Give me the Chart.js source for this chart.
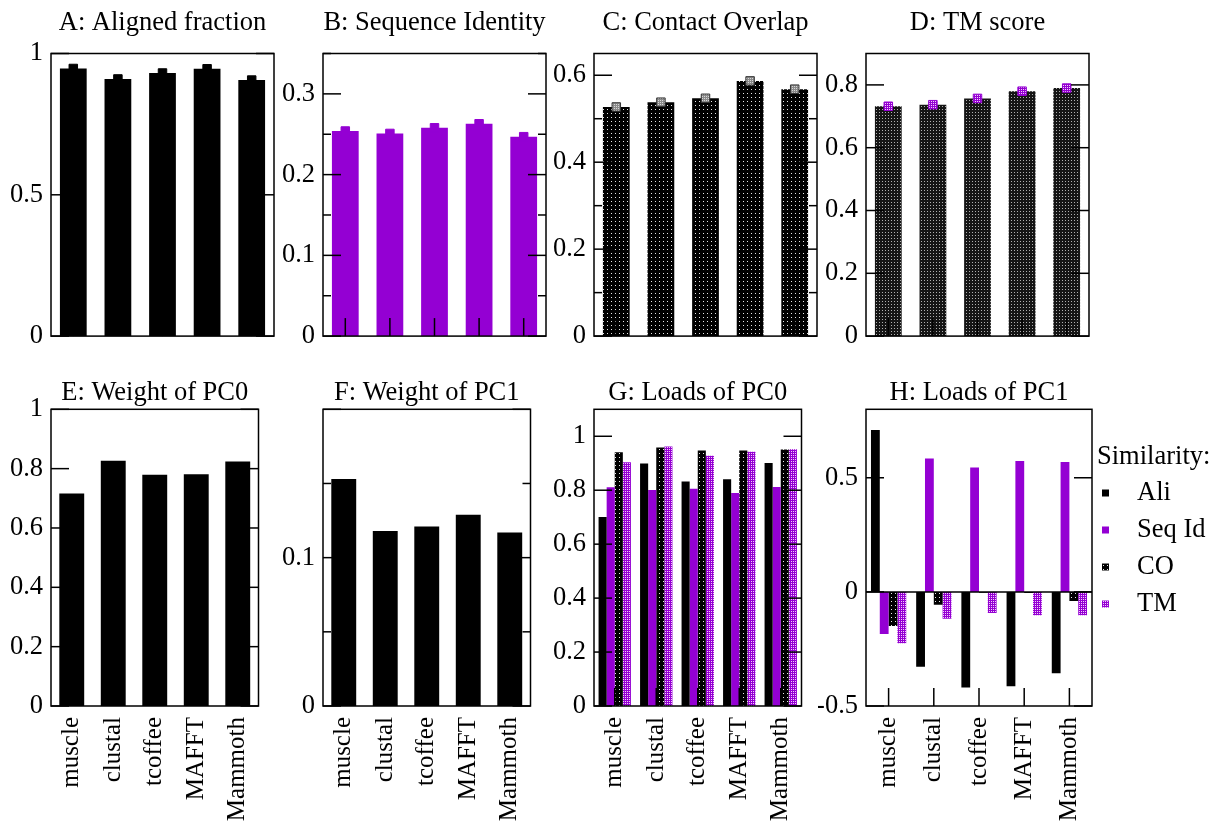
<!DOCTYPE html>
<html>
<head>
<meta charset="utf-8">
<script src="https://cdn.jsdelivr.net/npm/chart.js@4.4.1/dist/chart.umd.min.js"></script>
<style>
  body { margin: 0; background: #fff; width: 1217px; height: 825px; position: relative; overflow: hidden; }
  canvas { position: absolute; }
</style>
</head>
<body>
<script>
// data
const methods = ["muscle", "clustal", "tcoffee", "MAFFT", "Mammoth"];
const alignedFraction = [0.947, 0.910, 0.931, 0.946, 0.906];
const seqIdentity = [0.254, 0.251, 0.258, 0.263, 0.247];
const contactOverlap = [0.527, 0.538, 0.547, 0.587, 0.568];
const tmScore = [0.732, 0.737, 0.757, 0.780, 0.790];
const weightPC0 = [0.716, 0.827, 0.779, 0.781, 0.824];
const weightPC1 = [0.153, 0.118, 0.121, 0.129, 0.117];
const similarityNames = ["Ali", "Seq Id", "CO", "TM"];
const pc0Ali = [0.701, 0.899, 0.832, 0.841, 0.901];
const pc0SeqId = [0.811, 0.801, 0.805, 0.790, 0.812];
const pc0CO = [0.941, 0.958, 0.947, 0.947, 0.951];
const pc0TM = [0.904, 0.962, 0.928, 0.943, 0.952];
const pc1Ali = [0.709, -0.328, -0.419, -0.414, -0.357];
const pc1SeqId = [-0.184, 0.584, 0.545, 0.574, 0.569];
const pc1CO = [-0.150, -0.056, -0.004, -0.005, -0.040];
const pc1TM = [-0.225, -0.118, -0.092, -0.102, -0.102];

const purple = "#9400d3";
const fontSize = 26.5;
Chart.defaults.font.family = "Liberation Serif";
Chart.defaults.font.size = fontSize;
Chart.defaults.color = "#000";
Chart.defaults.animation = false;

function pattern(bg, fg, size, dots) {
    const c = document.createElement("canvas");
    c.width = c.height = size;
    const x = c.getContext("2d");
    x.fillStyle = bg;
    x.fillRect(0, 0, size, size);
    x.fillStyle = fg;
    dots.forEach(d => x.fillRect(d[0], d[1], 1, 1));
    return x.createPattern(c, "repeat");
}
const coFill = pattern("#000", "#e6e6e6", 4, [[1, 1]]);
const darkFill = pattern("#151515", "#b0b0b0", 3, [[1, 1]]);
const tmFill = pattern(purple, "#f4cefa", 4, [[1, 1], [3, 1], [1, 3], [3, 3]]);
const greyMark = pattern("#8a8a8a", "#d8d8d8", 2, [[0, 0]]);

// gnuplot style frame: inward ticks, box, zero line, key
const frame = {
    id: "frame",
    afterDatasetsDraw(chart, args, opts) {
        const { ctx, chartArea: a, scales: { x, y } } = chart;
        ctx.save();
        ctx.strokeStyle = "#000";
        ctx.lineWidth = 1.5;
        const line = (x1, y1, x2, y2) => { ctx.beginPath(); ctx.moveTo(x1, y1); ctx.lineTo(x2, y2); ctx.stroke(); };
        if (opts.zero) {
            const y0 = y.getPixelForValue(0);
            line(a.left, y0, a.right, y0);
        }
        y.ticks.forEach(t => {
            const py = y.getPixelForValue(t.value);
            line(a.left, py, a.left + 18, py);
            line(a.right - 18, py, a.right, py);
        });
        if (opts.minor) {
            const step = y.options.ticks.stepSize;
            const n = Math.floor((y.max - y.min) / opts.minor + 1e-6);
            for (let k = 0; k <= n; k++) {
                const v = y.min + k * opts.minor;
                if (Math.abs(v / step - Math.round(v / step)) < 1e-6) continue;
                const py = y.getPixelForValue(v);
                line(a.left, py, a.left + 8, py);
                line(a.right - 8, py, a.right, py);
            }
        }
        x.ticks.forEach((t, i) => {
            const px = x.getPixelForTick(i);
            line(px, a.bottom, px, a.bottom - 18);
        });
        ctx.strokeRect(a.left, a.top, a.width, a.height);
        if (opts.key) {
            ctx.fillStyle = "#000";
            ctx.font = fontSize + "px 'Liberation Serif'";
            ctx.textBaseline = "middle";
            ctx.fillText(opts.key, a.right + 5, 97);
            chart.data.datasets.forEach((ds, i) => {
                const cy = 133 + i * 37;
                ctx.fillStyle = ds.backgroundColor;
                ctx.fillRect(a.right + 10, cy - 3.5, 7, 7);
                ctx.fillStyle = "#000";
                ctx.fillText(ds.label, a.right + 45, cy);
            });
        }
        ctx.restore();
    }
};
Chart.register(frame);

function panel(boxLeft, row, title, yOpts, datasets, frameOpts, extraRight) {
    const c = document.createElement("canvas");
    const right = extraRight || 4;
    c.width = 48 + 226 + right;
    c.height = row === 0 ? 360 : 465;
    c.style.left = (boxLeft - 48) + "px";
    c.style.top = (row === 0 ? 0 : 360) + "px";
    document.body.appendChild(c);
    const hide = yOpts.hideAbove;
    return new Chart(c, {
        type: "bar",
        data: { labels: methods, datasets: datasets },
        options: {
            responsive: false,
            events: [],
            layout: { padding: { left: 0, right: right, top: 0, bottom: 0 } },
            plugins: {
                legend: { display: false },
                tooltip: { enabled: false },
                title: {
                    display: true,
                    text: title,
                    fullSize: false,
                    font: { size: fontSize, weight: "normal" },
                    padding: row === 0 ? { top: 7.1, bottom: 14.6 } : { top: 16.8, bottom: 0.7 }
                },
                frame: frameOpts || {}
            },
            scales: {
                x: {
                    grid: { display: false, drawTicks: false },
                    border: { display: false },
                    ticks: row === 0 ? { display: false } :
                        { minRotation: 90, maxRotation: 90, autoSkip: false, padding: 11, font: { size: 25 } },
                    afterFit: s => { s.height = row === 0 ? 10.5 : 119; }
                },
                y: {
                    min: yOpts.min, max: yOpts.max,
                    grid: { display: false, drawTicks: false },
                    border: { display: false },
                    ticks: {
                        stepSize: yOpts.step, includeBounds: false, padding: 8, autoSkip: false,
                        callback: v => (hide !== undefined && v > hide) ? "" : String(+v.toFixed(3))
                    },
                    afterFit: s => { s.width = 48; }
                }
            }
        }
    });
}

function single(values, fill) {
    return { type: "bar", data: values, backgroundColor: fill, borderWidth: 0,
             barPercentage: 0.6, categoryPercentage: 1, order: 1 };
}
function marker(values, fill, edge) {
    return { type: "line", data: values, showLine: false, pointStyle: "rect",
             pointRadius: 6, pointBackgroundColor: fill, pointBorderColor: edge,
             pointBorderWidth: 1, order: 0 };
}
function group(names, series, fills) {
    return series.map((s, i) => ({ label: names[i], data: s, backgroundColor: fills[i],
             borderWidth: 0, barPercentage: 1, categoryPercentage: 0.78 }));
}

const fills = ["#000", purple, coFill, tmFill];

panel(51, 0, "A: Aligned fraction", { min: 0, max: 1, step: 0.5 },
      [single(alignedFraction, "#000"), marker(alignedFraction, "#000", "#000")]);
panel(323, 0, "B: Sequence Identity", { min: 0, max: 0.35, step: 0.1 },
      [single(seqIdentity, purple), marker(seqIdentity, purple, purple)], { minor: 0.05 });
panel(594, 0, "C: Contact Overlap", { min: 0, max: 0.65, step: 0.2 },
      [single(contactOverlap, coFill), marker(contactOverlap, greyMark, "#333")], { minor: 0.1 });
panel(866, 0, "D: TM score", { min: 0, max: 0.9, step: 0.2 },
      [single(tmScore, darkFill), marker(tmScore, tmFill, purple)]);

panel(51, 1, "E: Weight of PC0", { min: 0, max: 1, step: 0.2 },
      [single(weightPC0, "#000")]);
panel(323, 1, "F: Weight of PC1", { min: 0, max: 0.2, step: 0.1, hideAbove: 0.15 },
      [single(weightPC1, "#000")], { minor: 0.05 });
panel(594, 1, "G: Loads of PC0", { min: 0, max: 1.1, step: 0.2 },
      group(similarityNames, [pc0Ali, pc0SeqId, pc0CO, pc0TM], fills));
panel(866, 1, "H: Loads of PC1", { min: -0.5, max: 0.8, step: 0.5 },
      group(similarityNames, [pc1Ali, pc1SeqId, pc1CO, pc1TM], fills),
      { zero: true, key: "Similarity:" }, 125);
</script>
</body>
</html>
